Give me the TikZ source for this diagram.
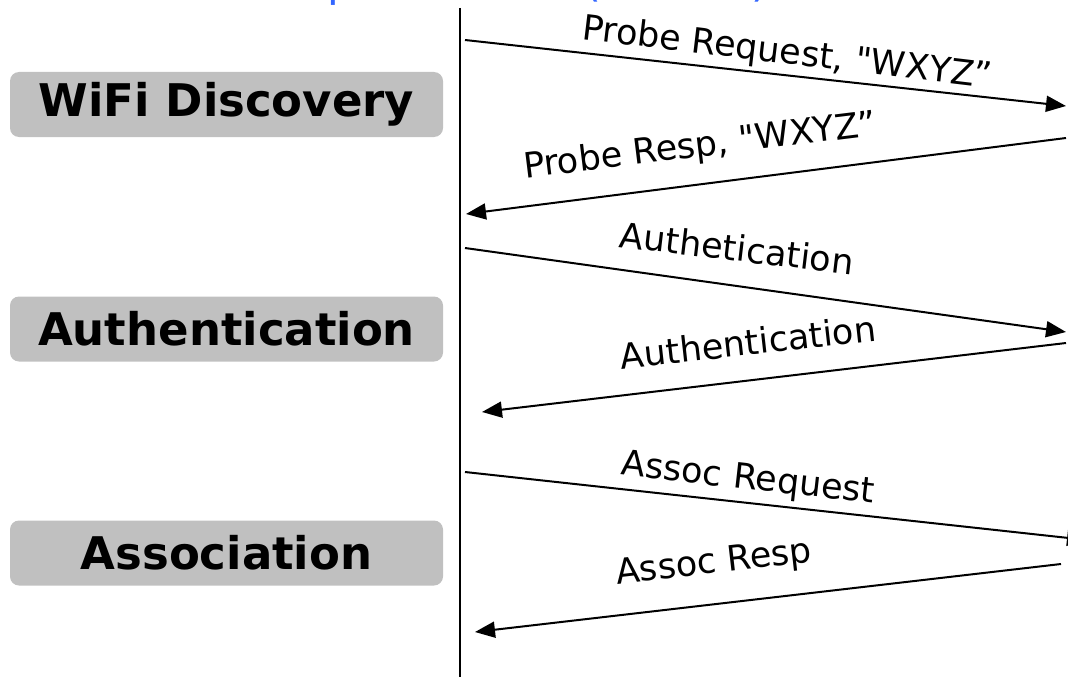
\documentclass[tikz,border=0pt]{standalone}
\usepackage{fontspec}
\setmainfont{DejaVu Sans}[Ligatures=TeXOff]
\usetikzlibrary{arrows.meta}
\definecolor{boxgray}{RGB}{192,192,192}
\definecolor{headblue}{RGB}{51,102,255}
\begin{document}
\begin{tikzpicture}[x=1pt,y=-1pt,
  phase/.style={fill=boxgray, rounded corners=9pt, minimum width=433pt, minimum height=65pt,
    font=\fontsize{45}{50}\selectfont\bfseries, inner sep=0pt},
  msg/.style={line width=2pt, -{Triangle[length=20pt,width=16pt]}},
  lbl/.style={font=\fontsize{35}{40}\selectfont, inner sep=0pt},
  lifeline/.style={line width=2pt}]
\useasboundingbox (0,0) rectangle (1068,677);
\begin{scope}
\clip (0,0) rectangle (1068,677);
% heading (cut off at top)
\node[headblue, anchor=base west, inner sep=0pt, font=\fontsize{43}{50}\selectfont] (head) at (91,-3) {Client Setup Overview (802.11)};
% phase boxes
\node[phase] (disc) at (226.5,104.5) {WiFi Discovery};
\node[phase] (auth) at (226.5,329) {Authentication};
\node[phase] (assoc) at (226.5,553) {Association};
% lifeline
\coordinate (lt) at (460,8);
\coordinate (lb) at (460,677);
\draw[lifeline] (lt) -- (lb);
% message end points
\coordinate (a1s) at (465,40);   \coordinate (a1e) at (1066,106);
\coordinate (a2s) at (1066,138); \coordinate (a2e) at (466,214);
\coordinate (a3s) at (465,248);  \coordinate (a3e) at (1066,332);
\coordinate (a4s) at (1066,343); \coordinate (a4e) at (482,412);
\coordinate (a5s) at (465,472);  \coordinate (a5e) at (1087,540);
\coordinate (a6s) at (1061,564); \coordinate (a6e) at (475,632);
\draw[msg] (a1s) -- (a1e);
\draw[msg] (a2s) -- (a2e);
\draw[msg] (a3s) -- (a3e);
\draw[msg] (a4s) -- (a4e);
\draw[msg] (a5s) -- (a5e);
\draw[msg] (a6s) -- (a6e);
% labels
\node[lbl, rotate=-6.8] (l1) at (787,54) {Probe Request, "WXYZ”};
\node[lbl, rotate=7.0] (l2) at (700,147) {Probe Resp, "WXYZ”};
\node[lbl, rotate=-6.8] (l3) at (737,248) {Authetication};
\node[lbl, rotate=6.4] (l4) at (748,342) {Authentication};
\node[lbl, rotate=-6.4] (l5) at (748,480) {Assoc Request};
\node[lbl, rotate=6.5] (l6) at (714,564) {Assoc Resp};
\end{scope}
\end{tikzpicture}
\end{document}
